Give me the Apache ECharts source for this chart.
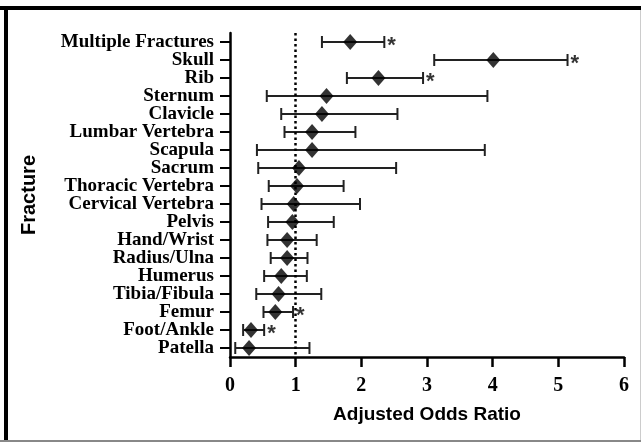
<!DOCTYPE html>
<html>
<head>
<meta charset="utf-8">
<script src="https://cdn.jsdelivr.net/npm/echarts@6/dist/echarts.min.js"></script>
<style>
html,body{margin:0;padding:0;background:#fff;}
#chart{width:641px;height:442px;}
</style>
</head>
<body>
<div id="chart"></div>
<script>
// 骨折部位（从上到下）
var cats = ['Multiple Fractures','Skull','Rib','Sternum','Clavicle','Lumbar Vertebra','Scapula','Sacrum',
	'Thoracic Vertebra','Cervical Vertebra','Pelvis','Hand/Wrist','Radius/Ulna','Humerus','Tibia/Fibula',
	'Femur','Foot/Ankle','Patella'];
// 调整后比值比及置信区间
var aor  = [1.83,4.01,2.26,1.47,1.40,1.25,1.25,1.05,1.02,0.97,0.95,0.87,0.87,0.78,0.74,0.69,0.32,0.29];
var low  = [1.40,3.11,1.78,0.56,0.78,0.83,0.41,0.43,0.59,0.48,0.58,0.57,0.62,0.52,0.40,0.51,0.20,0.08];
var high = [2.35,5.14,2.94,3.92,2.55,1.91,3.88,2.53,1.73,1.98,1.58,1.32,1.18,1.17,1.39,0.96,0.52,1.21];
// 显著性标记
var sig  = [1,1,1,0,0,0,0,0,0,0,0,0,0,0,0,1,1,0];

var barData = [], pointData = [], starData = [];
for (var i = 0; i < cats.length; i++) {
	barData.push([i, low[i], high[i]]);
	pointData.push([aor[i], i]);
	if (sig[i]) starData.push([high[i], i]);
}

var chart = echarts.init(document.getElementById('chart'));
var option = {
	animation: false,
	backgroundColor: '#fff',
	graphic: [
		{type:'rect', shape:{x:0,y:6,width:641,height:4}, style:{fill:'#000'}},
		{type:'rect', shape:{x:4,y:6,width:4,height:436}, style:{fill:'#000'}},
		{type:'rect', shape:{x:0,y:440,width:641,height:2}, style:{fill:'#888'}},
		{type:'rect', shape:{x:640,y:10,width:1,height:430}, style:{fill:'#ccc'}}
	],
	grid: {left: 230, right: 17, top: 33, bottom: 85},
	xAxis: {
		type: 'value',
		min: 0, max: 6, interval: 1,
		axisLine: {show: true, onZero: false, lineStyle: {color: '#000', width: 2.5}},
		axisTick: {show: true, length: 10, lineStyle: {color: '#000', width: 2.5}},
		axisLabel: {
			margin: 19, color: '#000',
			fontFamily: 'Liberation Serif', fontWeight: 'bold', fontSize: 20
		},
		splitLine: {show: false},
		name: 'Adjusted Odds Ratio',
		nameLocation: 'middle',
		nameGap: 48,
		nameTextStyle: {color: '#000', fontFamily: 'Liberation Sans', fontWeight: 'bold', fontSize: 19}
	},
	yAxis: {
		type: 'category',
		data: cats,
		inverse: true,
		axisLine: {show: true, onZero: false, lineStyle: {color: '#000', width: 2.5}},
		axisTick: {show: true, length: 10, alignWithLabel: true, lineStyle: {color: '#000', width: 2}},
		axisLabel: {
			interval: 0,
			margin: 16, color: '#000',
			fontFamily: 'Liberation Serif', fontWeight: 'bold', fontSize: 19
		},
		splitLine: {show: false},
		name: 'Fracture',
		nameLocation: 'middle',
		nameRotate: 90,
		nameGap: 191,
		nameTextStyle: {color: '#000', fontFamily: 'Liberation Sans', fontWeight: 'bold', fontSize: 20}
	},
	series: [{
		// 置信区间
		type: 'custom',
		data: barData,
		renderItem: function (params, api) {
			var y = api.value(0);
			var a = api.coord([api.value(1), y]);
			var b = api.coord([api.value(2), y]);
			var h = 6;
			var st = {stroke: '#222', lineWidth: 2};
			return {
				type: 'group',
				children: [
					{type: 'line', shape: {x1: a[0], y1: a[1], x2: b[0], y2: b[1]}, style: st},
					{type: 'line', shape: {x1: a[0], y1: a[1] - h, x2: a[0], y2: a[1] + h}, style: st},
					{type: 'line', shape: {x1: b[0], y1: b[1] - h, x2: b[0], y2: b[1] + h}, style: st}
				]
			};
		},
		z: 2
	}, {
		type: 'scatter',
		data: pointData,
		symbol: 'diamond',
		symbolSize: [14, 16],
		itemStyle: {color: '#000'},
		z: 4,
		markLine: {
			silent: true,
			symbol: 'none',
			label: {show: false},
			lineStyle: {color: '#000', type: [2.5, 3], width: 2.5},
			data: [{xAxis: 1}]
		}
	}, {
		type: 'scatter',
		data: starData,
		symbolSize: 0,
		label: {
			show: true,
			position: 'right',
			distance: 3,
			formatter: '*',
			offset: [0, 4],
			color: '#000',
			fontFamily: 'Liberation Sans', fontWeight: 'bold', fontSize: 22
		},
		z: 5
	}]
};
chart.setOption(option);
</script>
</body>
</html>
